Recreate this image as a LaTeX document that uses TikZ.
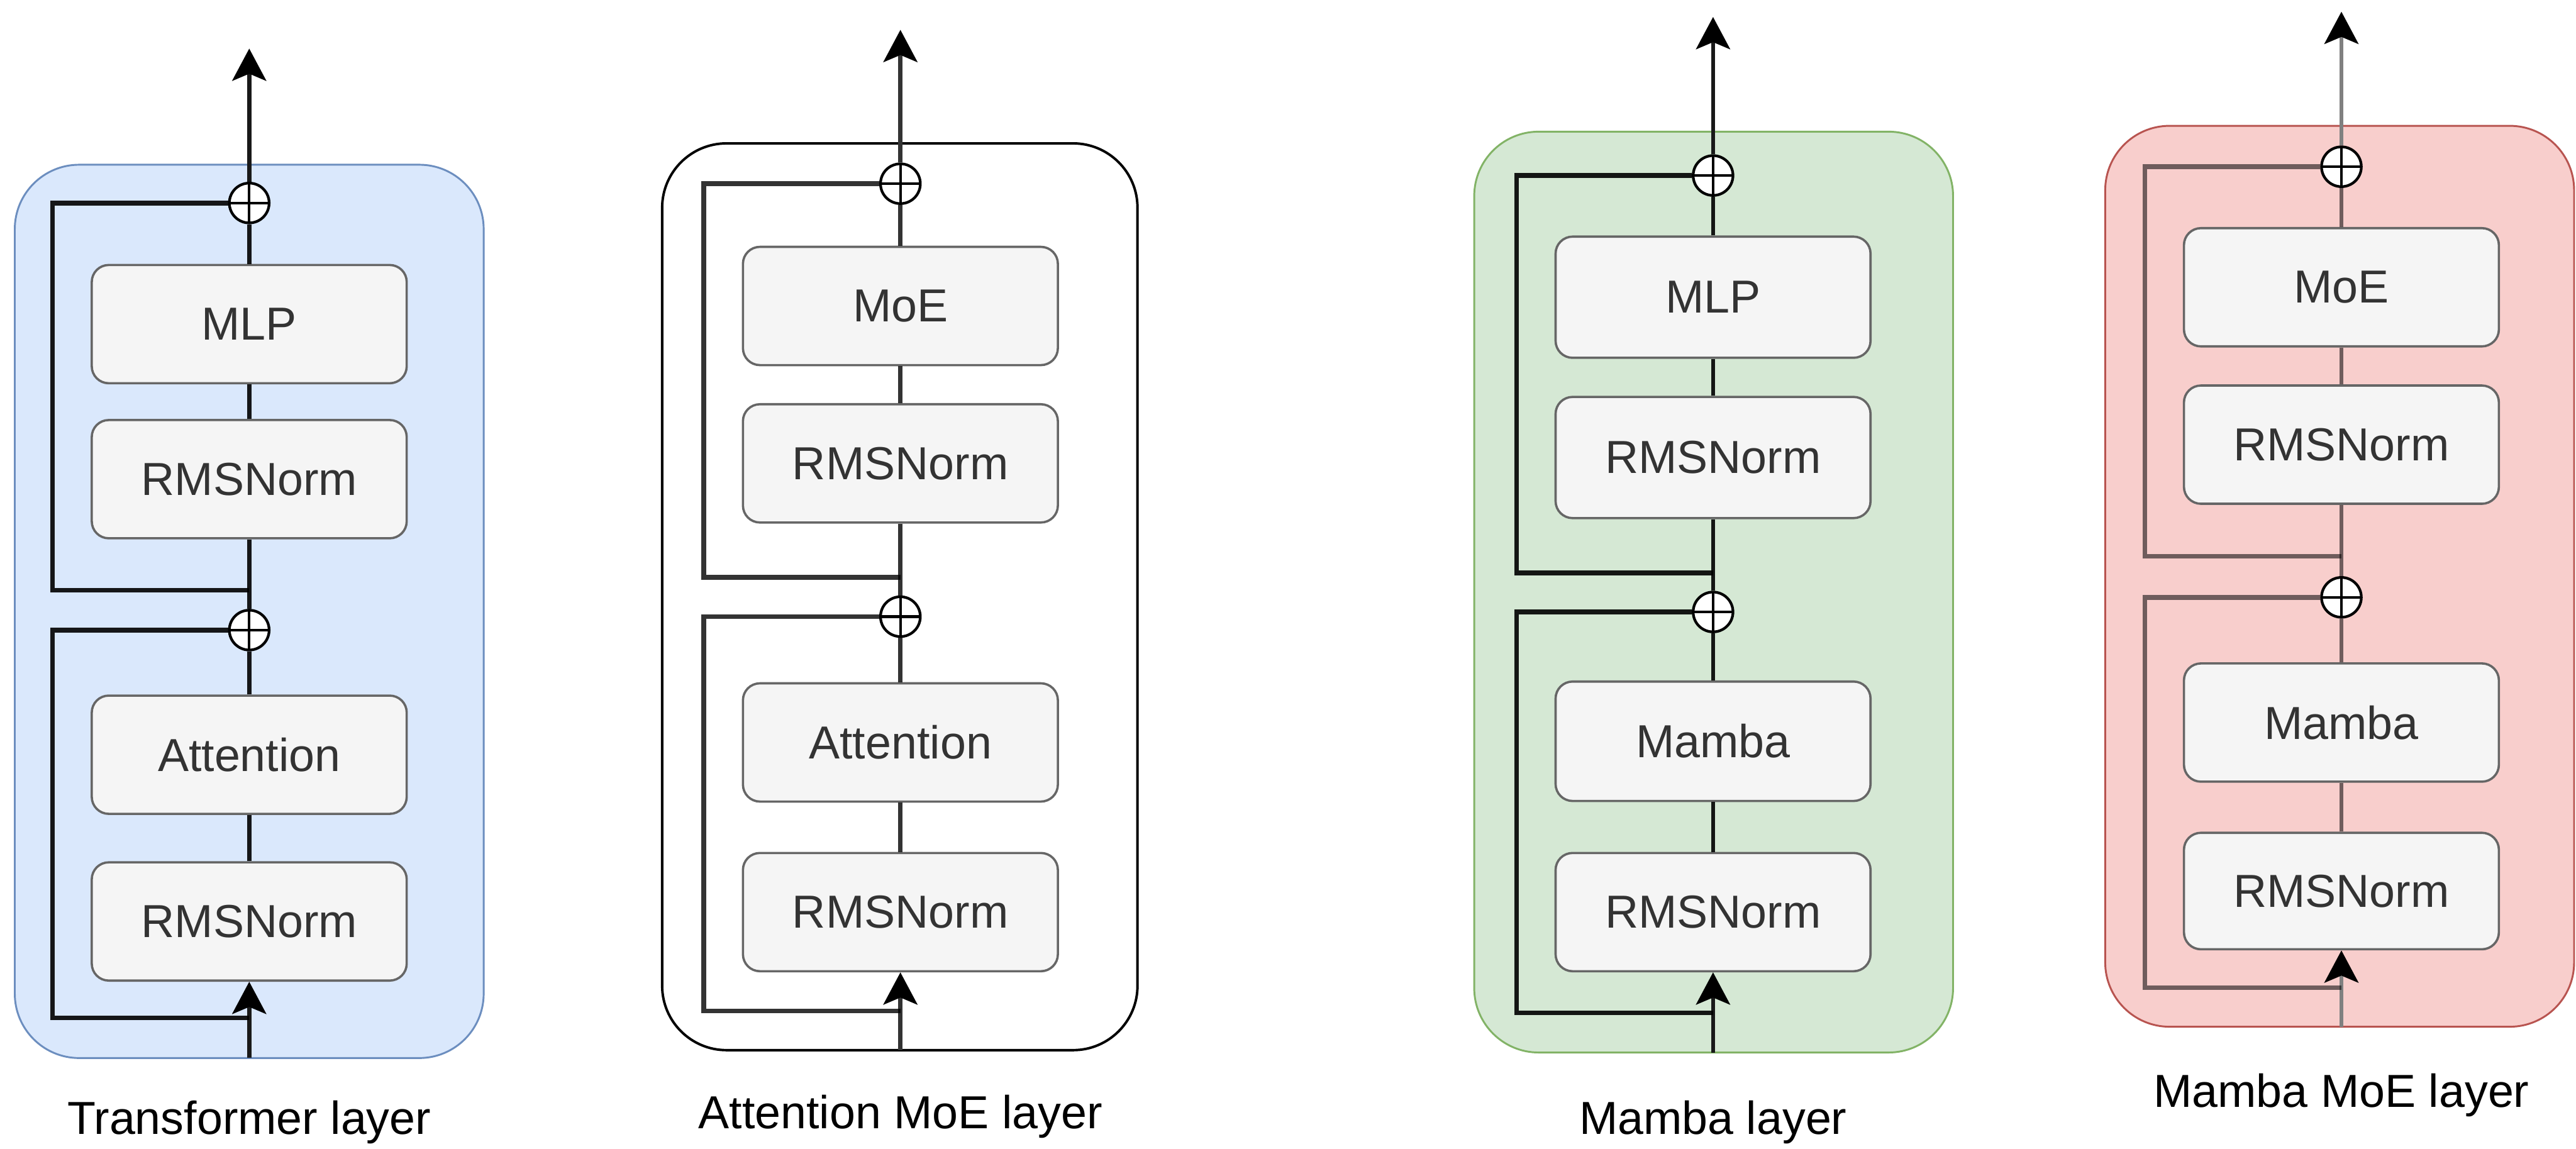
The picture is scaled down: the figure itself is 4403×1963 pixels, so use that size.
\documentclass[tikz,border=0pt]{standalone}
\usepackage{fontspec}
\setmainfont{Liberation Sans}
\usetikzlibrary{arrows.meta}
\definecolor{trfill}{HTML}{DAE8FC}
\definecolor{trline}{HTML}{6C8EBF}
\definecolor{mbfill}{HTML}{D5E8D4}
\definecolor{mbline}{HTML}{82B366}
\definecolor{mmfill}{HTML}{F8CECC}
\definecolor{mmline}{HTML}{B85450}
\definecolor{blockfill}{HTML}{F5F5F5}
\definecolor{blockline}{HTML}{666666}
\definecolor{blocktext}{HTML}{333333}

\begin{document}
\begin{tikzpicture}
[x=0.01cm,y=-0.01cm,
every node/.style={font=\fontsize{22.5}{27}\selectfont},
layerbox/.style={rounded corners=1.1cm,line width=0.9pt},
block/.style={draw=blockline,fill=blockfill,text=blocktext,rounded corners=0.29cm,line width=1.1pt,minimum width=5.38cm,minimum height=2.02cm,inner sep=0pt},
sumop/.style={circle,draw,fill=white,line width=1.3pt,minimum size=0.68cm,inner sep=0pt,
  path picture={\draw[line width=1.3pt] (path picture bounding box.north) -- (path picture bounding box.south)
  (path picture bounding box.west) -- (path picture bounding box.east);}},
flow/.style={line width=2pt},
residual/.style={line width=2.3pt},
outarrow/.style={-{Stealth[length=0.55cm,width=0.58cm,inset=0.12cm,color=black]}}]
\useasboundingbox (0,0) rectangle (4403,1963);

% Transformer layer
\node[layerbox,draw=trline,fill=trfill,minimum width=8.01cm,minimum height=15.26cm] (tr-bg) at (426,1045) {};
\coordinate (tr-out) at (426,83);
\node[sumop] (tr-add1) at (426,347) {};
\node[block] (tr-ffn) at (426,554) {MLP};
\node[block] (tr-norm2) at (426,819) {RMSNorm};
\coordinate (tr-s2) at (426,1009);
\node[sumop] (tr-add2) at (426,1077) {};
\node[block] (tr-mix) at (426,1290) {Attention};
\node[block] (tr-norm1) at (426,1575) {RMSNorm};
\coordinate (tr-s1) at (426,1740);
\coordinate (tr-in) at (426,1808);
\node (tr-label) at (426,1918) {Transformer layer};

% Attention MoE layer
\node[layerbox,draw=black,fill=white,line width=1.2pt,minimum width=8.12cm,minimum height=15.49cm] (am-bg) at (1538,1020) {};
\coordinate (am-out) at (1539,51);
\node[sumop] (am-add1) at (1539,314) {};
\node[block] (am-ffn) at (1539,523) {MoE};
\node[block] (am-norm2) at (1539,792) {RMSNorm};
\coordinate (am-s2) at (1539,987);
\node[sumop] (am-add2) at (1539,1054) {};
\node[block] (am-mix) at (1539,1269) {Attention};
\node[block] (am-norm1) at (1539,1559) {RMSNorm};
\coordinate (am-s1) at (1539,1728);
\coordinate (am-in) at (1539,1795);
\node (am-label) at (1539,1909) {Attention MoE layer};

% Mamba layer
\node[layerbox,draw=mbline,fill=mbfill,minimum width=8.18cm,minimum height=15.73cm] (mb-bg) at (2929,1012) {};
\coordinate (mb-out) at (2928,29);
\node[sumop] (mb-add1) at (2928,300) {};
\node[block,minimum height=2.07cm] (mb-ffn) at (2928,508) {MLP};
\node[block,minimum height=2.07cm] (mb-norm2) at (2928,782) {RMSNorm};
\coordinate (mb-s2) at (2928,979);
\node[sumop] (mb-add2) at (2928,1046) {};
\node[block,minimum height=2.04cm] (mb-mix) at (2928,1267) {Mamba};
\node[block] (mb-norm1) at (2928,1559) {RMSNorm};
\coordinate (mb-s1) at (2928,1731);
\coordinate (mb-in) at (2928,1799);
\node (mb-label) at (2928,1918) {Mamba layer};

% Mamba MoE layer
\node[layerbox,draw=mmline,fill=mmfill,minimum width=8.01cm,minimum height=15.39cm] (mm-bg) at (3999,985) {};
\coordinate (mm-out) at (4002,20);
\node[sumop] (mm-add1) at (4002,285) {};
\node[block] (mm-ffn) at (4002,491) {MoE};
\node[block] (mm-norm2) at (4002,760) {RMSNorm};
\coordinate (mm-s2) at (4002,951);
\node[sumop] (mm-add2) at (4002,1021) {};
\node[block] (mm-mix) at (4002,1235) {Mamba};
\node[block,minimum height=1.99cm] (mm-norm1) at (4002,1523) {RMSNorm};
\coordinate (mm-s1) at (4002,1688);
\coordinate (mm-in) at (4002,1755);
\node (mm-label) at (4002,1872) {Mamba MoE layer};

\foreach \p/\op/\lc in {tr/0.9/black!90,am/0.8/black!80,mb/0.9/black!90,mm/0.55/black!50}{
  \draw[flow,outarrow,draw=\lc] (\p-in) -- (\p-norm1);
  \draw[flow,outarrow,draw=\lc] (\p-add1) -- (\p-out);
  \foreach \from/\to in {norm1/mix,mix/add2,add2/norm2,norm2/ffn,ffn/add1}
    \draw[flow,draw opacity=\op] (\p-\from) -- (\p-\to);
  \draw[residual,draw opacity=\op] (\p-s1) -- ++(-336,0) |- (\p-add2);
  \draw[residual,draw opacity=\op] (\p-s2) -- ++(-336,0) |- (\p-add1);
}
\end{tikzpicture}
\end{document}
